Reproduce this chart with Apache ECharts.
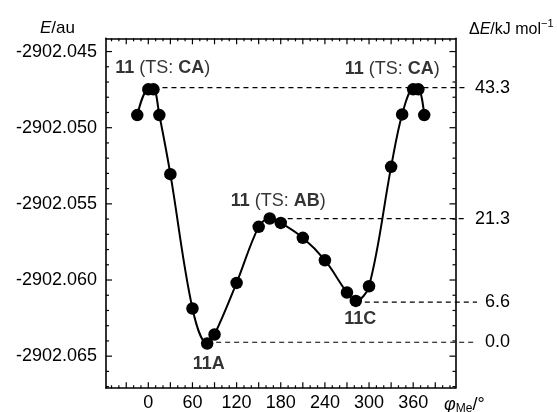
<!DOCTYPE html>
<html><head><meta charset="utf-8">
<script src="https://cdn.jsdelivr.net/npm/echarts@6/dist/echarts.min.js"></script>
<style>html,body{margin:0;padding:0;background:#fff}#c{width:557px;height:412px}</style>
</head><body><div id="c"></div>
<script>
// ---- data ----
const phi    = [-15, 0, 7, 15, 30, 60, 80, 90, 120, 150, 165, 180, 210, 240, 270, 282, 300, 330, 345, 360, 367, 375];
const energy = [-2902.04917, -2902.04748, -2902.04748, -2902.04917, -2902.05305, -2902.06187, -2902.06417, -2902.06358,
                -2902.06019, -2902.05651, -2902.05596, -2902.05625, -2902.05723, -2902.05870, -2902.06082, -2902.06137,
                -2902.06041, -2902.05257, -2902.04913, -2902.04748, -2902.04748, -2902.04917];
const xTickLabels = [0, 60, 120, 180, 240, 300, 360];
const yTickLabels = [-2902.045, -2902.050, -2902.055, -2902.060, -2902.065];
const levelEnergy = [-2902.04737, -2902.05596, -2902.06144, -2902.06407];
const levelLabels = ['43.3', '21.3', '6.6', '0.0'];
const levelStartPhi = [7, 165, 282, 80];
const annoText = ['{b|11}{n| (TS: }{b|CA}{n|)}', '{b|11}{n| (TS: }{b|CA}{n|)}', '{b|11}{n| (TS: }{b|AB}{n|)}', '{b|11A}', '{b|11C}'];
const annoPhi = [19.7, 331.5, 176.6, 82.2, 288];
const annoE = [-2902.04608, -2902.04612, -2902.05482, -2902.06553, -2902.06258];

// ---- layout / style ----
const FONT = '"Liberation Sans", Arial, Helvetica, sans-serif';
const X_MIN = -57.5, X_MAX = 417.5;
const Y_MIN = -2902.06709, Y_MAX = -2902.04413;
const GRID = { left: 106, right: 101.5, top: 38.3, bottom: 23.7 };
const W = 557, H = 412;
const plotW = W - GRID.left - GRID.right;
const degPerPx = (X_MAX - X_MIN) / plotW;
const X2_MAX = X_MIN + (W - GRID.left) * degPerPx;

// tick marks: [value, length]
const xTicks = [], yTicks = [];
for (let v = -50; v <= 410; v += 10) xTicks.push([v, (v % 30 === 0) ? 6 : 3]);
for (let k = 67; k >= 45; k--) yTicks.push([-2902 - k / 1000, (k % 5 === 0) ? 6 : 3]);

function xAx(pos, labels) {
  return {
    type: 'value', position: pos, min: X_MIN, max: X_MAX, gridIndex: 0,
    axisLine: { show: true, onZero: false, lineStyle: { color: '#000', width: 1.6 } },
    axisTick: { show: false },
    axisLabel: labels ? { show: true, customValues: xTickLabels, fontSize: 18, color: '#000',
                          fontFamily: FONT, margin: 6 } : { show: false },
    splitLine: { show: false }
  };
}
function yAx(pos, labels) {
  return {
    type: 'value', position: pos, min: Y_MIN, max: Y_MAX, gridIndex: 0,
    axisLine: { show: true, onZero: false, lineStyle: { color: '#000', width: 1.6 } },
    axisTick: { show: false },
    axisLabel: labels ? { show: true, customValues: yTickLabels, fontSize: 18, color: '#000',
                          fontFamily: FONT, margin: 9, formatter: v => v.toFixed(3) } : { show: false },
    splitLine: { show: false }
  };
}
const hidden = { show: false };
const tN = { fontSize: 17, fontFamily: FONT, color: '#000', fontWeight: 'normal' };

const ctx = document.createElement('canvas').getContext('2d');
ctx.font = '18px "Liberation Sans", Arial';
const labelRight = 511;
const levelEndPhi = levelLabels.map(t => X_MIN + (labelRight - ctx.measureText(t).width - 9 - GRID.left) * degPerPx);

const chart = echarts.init(document.getElementById('c'));
const option = {
  animation: false,
  backgroundColor: '#fff',
  grid: [GRID, { left: GRID.left, right: 0, top: GRID.top, bottom: GRID.bottom, show: false }],
  title: [
    { text: '{i|E}{n|/au}', left: 35, top: 15,
      textStyle: { fontWeight: 'normal', rich: { i: Object.assign({}, tN, { fontStyle: 'italic' }), n: tN } } },
    { text: '{n|Δ}{i|E}{n|/kJ mol}{s|−1}', left: 464, top: 13,
      textStyle: { fontWeight: 'normal', rich: {
        i: Object.assign({}, tN, { fontSize: 16, fontStyle: 'italic', verticalAlign: 'bottom', lineHeight: 20 }),
        n: Object.assign({}, tN, { fontSize: 16, verticalAlign: 'bottom', lineHeight: 20 }),
        s: Object.assign({}, tN, { fontSize: 11, verticalAlign: 'top', lineHeight: 12 }) } } },
    { text: '{p|φ}{s|Me}{n|/°}', left: 439, top: 391,
      textStyle: { fontWeight: 'normal', rich: {
        p: Object.assign({}, tN, { fontSize: 18, fontStyle: 'italic', verticalAlign: 'top', lineHeight: 18 }),
        s: Object.assign({}, tN, { fontSize: 12, verticalAlign: 'top', lineHeight: 14, padding: [7, 0, 0, 0] }),
        n: Object.assign({}, tN, { fontSize: 18, verticalAlign: 'top', lineHeight: 18 }) } } }
  ],
  xAxis: [xAx('bottom', true), xAx('top', false),
          { type: 'value', gridIndex: 1, min: X_MIN, max: X2_MAX, show: false, axisLine: hidden, axisTick: hidden, axisLabel: hidden, splitLine: hidden }],
  yAxis: [yAx('left', true), yAx('right', false),
          { type: 'value', gridIndex: 1, min: Y_MIN, max: Y_MAX, show: false, axisLine: hidden, axisTick: hidden, axisLabel: hidden, splitLine: hidden }],
  series: [
    {
      id: 'curve', type: 'line', data: phi.map((p, i) => [p, energy[i]]),
      smooth: 0.35, symbol: 'circle', symbolSize: 12.5, z: 5,
      itemStyle: { color: '#000' }, lineStyle: { color: '#000', width: 2 }
    },
    {
      id: 'anno', type: 'scatter', symbolSize: 0, z: 6, silent: true,
      data: annoPhi.map((p, i) => [p, annoE[i], annoText[i]]),
      label: { show: true, position: 'inside', formatter: p => p.data[2], color: '#000',
               fontSize: 18, fontFamily: FONT,
               rich: { b: Object.assign({}, tN, { fontSize: 18, fontWeight: 'bold' }),
                       n: Object.assign({}, tN, { fontSize: 18 }) } }
    }
  ].concat(levelEnergy.map((e, i) => ({
    id: 'lvl' + i, type: 'line', xAxisIndex: 2, yAxisIndex: 2, symbol: 'none', z: 2,
    data: [[levelStartPhi[i], e], [levelEndPhi[i], e]],
    lineStyle: { color: '#000', width: 1.2, type: [5, 4] },
    endLabel: { show: true, formatter: levelLabels[i], fontSize: 18, color: '#000', fontFamily: FONT, distance: 8 }
  })))
};
chart.setOption(option);

// inward tick marks on all four frame sides; tick positions along each side come from the axes' scales
const finder = { xAxisIndex: 0, yAxisIndex: 0 };
const leftPx = GRID.left, rightPx = W - GRID.right, topPx = GRID.top, bottomPx = H - GRID.bottom;
const els = [];
function tick(x1, y1, x2, y2) {
  els.push({ type: 'line', z: 100, silent: true, shape: { x1: x1, y1: y1, x2: x2, y2: y2 },
             style: { stroke: '#000', lineWidth: 1.2 } });
}
xTicks.forEach(([v, len]) => {
  const x = chart.convertToPixel(finder, [v, Y_MIN])[0];
  tick(x, bottomPx, x, bottomPx - len);
  tick(x, topPx, x, topPx + len);
});
yTicks.forEach(([v, len]) => {
  const y = chart.convertToPixel(finder, [X_MIN, v])[1];
  tick(leftPx, y, leftPx + len, y);
  tick(rightPx, y, rightPx - len, y);
});
chart.setOption({ graphic: { elements: els } });
</script></body></html>
